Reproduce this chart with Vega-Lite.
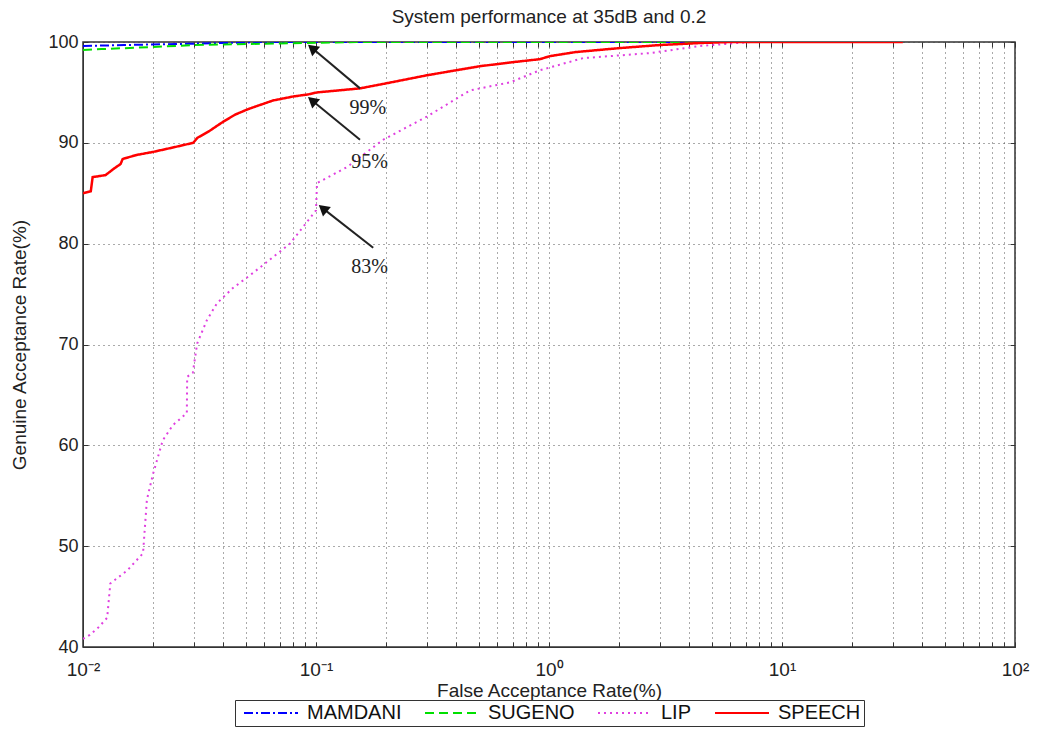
{
  "$schema": "https://vega.github.io/schema/vega-lite/v6.json",
  "autosize": {"type": "none"},
  "width": 932,
  "height": 605,
  "padding": {"left": 83, "top": 42, "right": 23, "bottom": 106},
  "background": "white",
  "title": {"text": "System performance at 35dB and 0.2", "font": "Liberation Sans", "fontSize": 19, "fontWeight": "normal", "color": "#222", "offset": 6},
  "resolve": {"axis": {"x": "independent", "y": "independent"}},
  "config": {
    "view": {"stroke": "#333", "strokeWidth": 1.5},
    "axis": {"labelFont": "Liberation Sans", "titleFont": "Liberation Sans", "labelColor": "#222", "titleColor": "#222", "titleFontWeight": "normal", "domainColor": "#333", "tickColor": "#333", "gridColor": "#444", "gridDash": [1, 4], "gridOpacity": 0.9}
  },
  "datasets": {
    "curves": [
      {"series": "MAMDANI", "far": 0.01, "gar": 99.6},
      {"series": "MAMDANI", "far": 0.015, "gar": 99.7},
      {"series": "MAMDANI", "far": 0.025, "gar": 99.8},
      {"series": "MAMDANI", "far": 0.04, "gar": 99.9},
      {"series": "MAMDANI", "far": 0.06, "gar": 100},
      {"series": "MAMDANI", "far": 30, "gar": 100},
      {"series": "SUGENO", "far": 0.01, "gar": 99.2},
      {"series": "SUGENO", "far": 0.012, "gar": 99.3},
      {"series": "SUGENO", "far": 0.02, "gar": 99.5},
      {"series": "SUGENO", "far": 0.03, "gar": 99.7},
      {"series": "SUGENO", "far": 0.05, "gar": 99.8},
      {"series": "SUGENO", "far": 0.09, "gar": 99.9},
      {"series": "SUGENO", "far": 0.15, "gar": 100},
      {"series": "SUGENO", "far": 30, "gar": 100},
      {"series": "LIP", "far": 0.01, "gar": 40.8},
      {"series": "LIP", "far": 0.0107, "gar": 41.2},
      {"series": "LIP", "far": 0.0116, "gar": 41.9},
      {"series": "LIP", "far": 0.0127, "gar": 42.9},
      {"series": "LIP", "far": 0.0131, "gar": 46.3},
      {"series": "LIP", "far": 0.0155, "gar": 47.6},
      {"series": "LIP", "far": 0.0181, "gar": 49.3},
      {"series": "LIP", "far": 0.0188, "gar": 54.6},
      {"series": "LIP", "far": 0.02, "gar": 57.2},
      {"series": "LIP", "far": 0.022, "gar": 60.5},
      {"series": "LIP", "far": 0.0243, "gar": 62.0},
      {"series": "LIP", "far": 0.0279, "gar": 63.2},
      {"series": "LIP", "far": 0.028, "gar": 66.8},
      {"series": "LIP", "far": 0.0296, "gar": 67.2},
      {"series": "LIP", "far": 0.0309, "gar": 70.1},
      {"series": "LIP", "far": 0.034, "gar": 72.4},
      {"series": "LIP", "far": 0.0376, "gar": 74.1},
      {"series": "LIP", "far": 0.044, "gar": 75.6},
      {"series": "LIP", "far": 0.0537, "gar": 77.1},
      {"series": "LIP", "far": 0.0773, "gar": 80.0},
      {"series": "LIP", "far": 0.1, "gar": 83.3},
      {"series": "LIP", "far": 0.101, "gar": 86.0},
      {"series": "LIP", "far": 0.136, "gar": 87.6},
      {"series": "LIP", "far": 0.194, "gar": 90.3},
      {"series": "LIP", "far": 0.299, "gar": 92.6},
      {"series": "LIP", "far": 0.458, "gar": 95.2},
      {"series": "LIP", "far": 0.681, "gar": 96.0},
      {"series": "LIP", "far": 0.914, "gar": 97.2},
      {"series": "LIP", "far": 1.4, "gar": 98.4},
      {"series": "LIP", "far": 2.71, "gar": 98.9},
      {"series": "LIP", "far": 4.45, "gar": 99.6},
      {"series": "LIP", "far": 7.3, "gar": 100},
      {"series": "LIP", "far": 30, "gar": 100},
      {"series": "SPEECH", "far": 0.01, "gar": 85.0},
      {"series": "SPEECH", "far": 0.0108, "gar": 85.2},
      {"series": "SPEECH", "far": 0.011, "gar": 86.6},
      {"series": "SPEECH", "far": 0.0125, "gar": 86.8},
      {"series": "SPEECH", "far": 0.0135, "gar": 87.4},
      {"series": "SPEECH", "far": 0.0145, "gar": 87.9},
      {"series": "SPEECH", "far": 0.0148, "gar": 88.4},
      {"series": "SPEECH", "far": 0.017, "gar": 88.8},
      {"series": "SPEECH", "far": 0.02, "gar": 89.1},
      {"series": "SPEECH", "far": 0.025, "gar": 89.6},
      {"series": "SPEECH", "far": 0.0297, "gar": 90.0},
      {"series": "SPEECH", "far": 0.031, "gar": 90.5},
      {"series": "SPEECH", "far": 0.035, "gar": 91.2},
      {"series": "SPEECH", "far": 0.04, "gar": 92.1},
      {"series": "SPEECH", "far": 0.045, "gar": 92.8},
      {"series": "SPEECH", "far": 0.0506, "gar": 93.3},
      {"series": "SPEECH", "far": 0.055, "gar": 93.6},
      {"series": "SPEECH", "far": 0.0654, "gar": 94.2},
      {"series": "SPEECH", "far": 0.08, "gar": 94.6},
      {"series": "SPEECH", "far": 0.0924, "gar": 94.8},
      {"series": "SPEECH", "far": 0.101, "gar": 95.0},
      {"series": "SPEECH", "far": 0.125, "gar": 95.2},
      {"series": "SPEECH", "far": 0.1545, "gar": 95.4},
      {"series": "SPEECH", "far": 0.2, "gar": 95.9},
      {"series": "SPEECH", "far": 0.2995, "gar": 96.7},
      {"series": "SPEECH", "far": 0.4, "gar": 97.2},
      {"series": "SPEECH", "far": 0.5057, "gar": 97.6},
      {"series": "SPEECH", "far": 0.7, "gar": 98.0},
      {"series": "SPEECH", "far": 0.915, "gar": 98.3},
      {"series": "SPEECH", "far": 1.01, "gar": 98.6},
      {"series": "SPEECH", "far": 1.3, "gar": 99.0},
      {"series": "SPEECH", "far": 2.02, "gar": 99.4},
      {"series": "SPEECH", "far": 2.99, "gar": 99.7},
      {"series": "SPEECH", "far": 4.45, "gar": 99.9},
      {"series": "SPEECH", "far": 6, "gar": 100},
      {"series": "SPEECH", "far": 33, "gar": 100}
    ],
    "notes": [
      {"label": "99%", "tipx": 0.0962, "tipy": 99.4, "tailx": 0.1545, "taily": 95.4, "lx": 0.167, "ly": 93.45},
      {"label": "95%", "tipx": 0.0962, "tipy": 94.2, "tailx": 0.1545, "taily": 90.3, "lx": 0.17, "ly": 88.1},
      {"label": "83%", "tipx": 0.107, "tipy": 83.5, "tailx": 0.176, "taily": 79.6, "lx": 0.17, "ly": 77.7}
    ]
  },
  "layer": [
    {
      "data": {"name": "curves"},
      "mark": {"type": "line", "clip": true},
      "encoding": {
        "x": {"field": "far", "type": "quantitative",
          "scale": {"type": "log", "domain": [0.01, 100], "nice": false},
          "axis": {"orient": "bottom", "title": "False Acceptance Rate(%)", "titleFontSize": 19, "titlePadding": 2,
            "values": [0.01,0.02,0.03,0.04,0.05,0.06,0.07,0.08,0.09,0.1,0.2,0.3,0.4,0.5,0.6,0.7,0.8,0.9,1,2,3,4,5,6,7,8,9,10,20,30,40,50,60,70,80,90,100],
            "labelExpr": "datum.value == 0.01 ? '10⁻²' : datum.value == 0.1 ? '10⁻¹' : datum.value == 1 ? '10⁰' : datum.value == 10 ? '10¹' : datum.value == 100 ? '10²' : ''",
            "labelFontSize": 19, "labelPadding": 18, "tickSize": -5, "grid": true, "labelFlush": false, "labelOverlap": false}},
        "y": {"field": "gar", "type": "quantitative",
          "scale": {"domain": [40, 100], "nice": false},
          "axis": {"orient": "left", "title": "Genuine Acceptance Rate(%)", "titleFontSize": 19, "titlePadding": 18,
            "values": [40,50,60,70,80,90,100], "labelFontSize": 18, "labelPadding": 10, "tickSize": -5, "grid": true}},
        "color": {"field": "series", "type": "nominal",
          "scale": {"domain": ["MAMDANI", "SUGENO", "LIP", "SPEECH"], "range": ["#0000ff", "#00e000", "#e040e0", "#ff0000"]},
          "legend": {"title": null, "orient": "none", "legendX": 152, "legendY": 658, "direction": "horizontal",
            "strokeColor": "#333", "fillColor": "white", "padding": 3, "symbolType": "M-1,0H5", "symbolSize": 324, "symbolOffset": 5,
            "symbolStrokeWidth": 2, "labelFont": "Liberation Sans", "labelFontSize": 20, "labelColor": "#111", "columnPadding": 17, "labelOffset": 44, "offset": 0}},
        "strokeDash": {"field": "series", "type": "nominal",
          "scale": {"domain": ["MAMDANI", "SUGENO", "LIP", "SPEECH"], "range": [[9, 3, 2, 3], [9, 5], [2, 4], [1, 0]]},
          "legend": {"title": null}},
        "strokeWidth": {"condition": {"test": "datum.series == 'SPEECH'", "value": 2.5}, "value": 2},
        "order": {"field": "far", "type": "quantitative"}
      }
    },
    {
      "data": {"name": "notes"},
      "mark": {"type": "rule", "color": "#222", "strokeWidth": 2},
      "encoding": {
        "x": {"field": "tailx", "type": "quantitative",
          "axis": {"orient": "top", "title": null, "labels": false, "grid": false, "domain": false, "tickSize": -5,
            "values": [0.01,0.02,0.03,0.04,0.05,0.06,0.07,0.08,0.09,0.1,0.2,0.3,0.4,0.5,0.6,0.7,0.8,0.9,1,2,3,4,5,6,7,8,9,10,20,30,40,50,60,70,80,90,100]}},
        "y": {"field": "taily", "type": "quantitative",
          "axis": {"orient": "right", "title": null, "labels": false, "grid": false, "domain": false, "tickSize": -5,
            "values": [40,50,60,70,80,90,100]}},
        "x2": {"field": "tipx"},
        "y2": {"field": "tipy"}
      }
    },
    {
      "data": {"name": "notes"},
      "mark": {"type": "point", "shape": "triangle-up", "filled": true, "color": "#111", "size": 150, "angle": 310, "opacity": 1},
      "encoding": {
        "x": {"field": "tipx", "type": "quantitative", "axis": null},
        "y": {"field": "tipy", "type": "quantitative", "axis": null}
      }
    },
    {
      "data": {"name": "notes"},
      "mark": {"type": "text", "font": "Liberation Serif", "fontSize": 20, "color": "#222"},
      "encoding": {
        "x": {"field": "lx", "type": "quantitative", "axis": null},
        "y": {"field": "ly", "type": "quantitative", "axis": null},
        "text": {"field": "label"}
      }
    }
  ]
}
